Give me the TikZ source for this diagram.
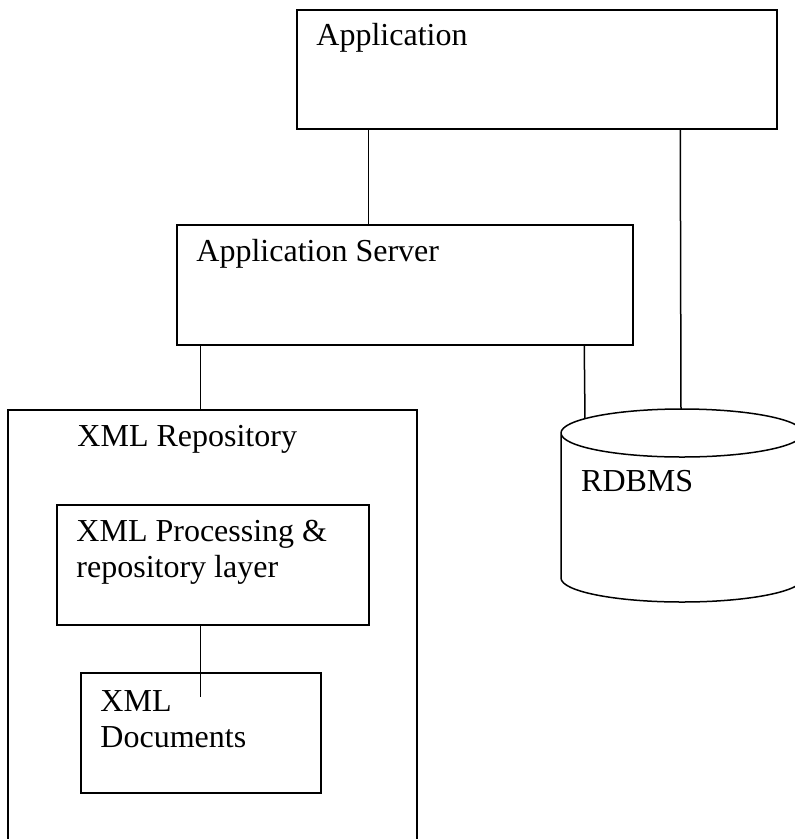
\documentclass[tikz,border=0pt]{standalone}
\usepackage{fontspec}
\setmainfont{Liberation Serif}
\begin{document}
\begin{tikzpicture}[x=1pt,y=-1pt,
    box/.style={draw,line width=1.5pt,rectangle,inner sep=0pt},
    lbl/.style={anchor=base west,inner sep=0pt,align=left,
      font=\fontsize{32}{36}\selectfont},
    link/.style={line width=1.5pt}]
  \useasboundingbox (0,0) rectangle (795,839);
  % boxes
  \node[box,minimum width=480pt,minimum height=119pt] (app) at (537,69.5) {};
  \node[box,minimum width=456pt,minimum height=120pt] (srv) at (405,285) {};
  \node[box,minimum width=409pt,minimum height=500pt] (repo) at (212.5,660) {};
  \node[box,minimum width=312pt,minimum height=120pt] (proc) at (213,565) {};
  \node[box,minimum width=240pt,minimum height=120pt] (docs) at (201,733) {};
  % labels
  \node[lbl] (applbl) at ([xshift=20pt,yshift=-36pt]app.north west) {Application};
  \node[lbl] (srvlbl) at ([xshift=20pt,yshift=-37pt]srv.north west) {Application Server};
  \node[lbl] (repolbl) at ([xshift=70pt,yshift=-37pt]repo.north west) {XML Repository};
  \node[lbl] (proclbl) at ([xshift=20pt,yshift=-73pt]proc.north west) {XML Processing \&\\repository layer};
  \node[lbl] (docslbl) at ([xshift=20pt,yshift=-75pt]docs.north west) {XML\\Documents};
  % database
  \draw[line width=1.5pt] (561,433) arc (180:360:121 and -24)
    arc (0:180:121 and -24) -- (561,578) arc (180:360:121 and -24) -- (803,433);
  \coordinate (dbtop) at (681,409);
  \coordinate (dbleft) at (585,418.7);
  \node[lbl] (dblbl) at (581,491) {RDBMS};
  % connectors
  \draw[link] ([xshift=72pt]app.south west) -- ([xshift=192pt]srv.north west);
  \draw[link] ([xshift=384pt]app.south west) -- (dbtop);
  \draw[link] ([xshift=24pt]srv.south west) -- ([xshift=193pt]repo.north west);
  \draw[link] ([xshift=408pt]srv.south west) -- (dbleft);
  \draw[link] ([xshift=144pt]proc.south west) -- ([xshift=120pt,yshift=-25pt]docs.north west);
\end{tikzpicture}
\end{document}
